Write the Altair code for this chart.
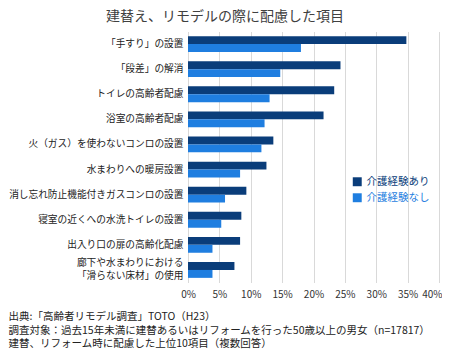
import altair as alt
import pandas as pd

categories = [
    "「手すり」の設置",
    "「段差」の解消",
    "トイレの高齢者配慮",
    "浴室の高齢者配慮",
    "火（ガス）を使わないコンロの設置",
    "水まわりへの暖房設置",
    "消し忘れ防止機能付きガスコンロの設置",
    "寝室の近くへの水洗トイレの設置",
    "出入り口の扉の高齢化配慮",
    "廊下や水まわりにおける\n「滑らない床材」の使用",
]
series = ["介護経験あり", "介護経験なし"]
with_care = [34.8, 24.3, 23.3, 21.6, 13.6, 12.5, 9.3, 8.5, 8.3, 7.4]
without_care = [18.0, 14.7, 13.0, 12.2, 11.7, 8.3, 5.9, 5.3, 3.9, 3.9]
colors = ["#0a3d7a", "#1f7ee0"]
x_ticks = [0, 5, 10, 15, 20, 25, 30, 35, 40]
footnote = [
    "出典:「高齢者リモデル調査」TOTO（H23）",
    "調査対象：過去15年未満に建替あるいはリフォームを行った50歳以上の男女（n=17817）",
    "建替、リフォーム時に配慮した上位10項目（複数回答）",
]
title_text = "建替え、リモデルの際に配慮した項目"

rows = []
for c, a, b in zip(categories, with_care, without_care):
    rows.append({"item": c, "series": series[0], "value": a})
    rows.append({"item": c, "series": series[1], "value": b})
df = pd.DataFrame(rows)

FONT = "Noto Sans CJK JP"

chart = alt.Chart(df).mark_bar().encode(
    x=alt.X(
        "value:Q",
        scale=alt.Scale(domain=[0, 40], nice=False),
        axis=alt.Axis(
            values=x_ticks,
            labelExpr="datum.value + '%'",
            labelOverlap=False,
            labelFlush=False,
            labelAlign={"expr": "datum.value == 40 ? 'right' : 'center'"},
            labelOffset={"expr": "datum.value == 40 ? 3 : 0"},
            grid=True,
            gridColor="#d9d9d9",
            domain=False,
            ticks=False,
            labelPadding=7,
            labelFontSize=10,
            labelColor="#333333",
            labelFont=FONT,
            title=footnote,
            titleAnchor="start",
            titleAlign="left",
            titleBaseline="top",
            titleX=-180,
            titleY=29,
            titleFontSize=10.5,
            titleFontWeight="normal",
            titleColor="#222222",
            titleFont=FONT,
            titleLineHeight=13.5,
        ),
    ),
    y=alt.Y(
        "item:N",
        sort=categories,
        scale=alt.Scale(paddingInner=0.37, paddingOuter=0.185),
        axis=alt.Axis(
            title=None,
            labelExpr="split(datum.label, '\\n')",
            labelOffset={"expr": "indexof(datum.value, '\\n') >= 0 ? -7 : 0"},
            labelFontSize=9.7,
            labelColor="#222222",
            labelFont=FONT,
            labelPadding=5,
            labelLineHeight=13,
            ticks=False,
            domainColor="#d9d9d9",
            labelLimit=200,
        ),
    ),
    yOffset=alt.YOffset("series:N", sort=series, scale=alt.Scale(paddingInner=0, paddingOuter=0)),
    color=alt.Color(
        "series:N",
        sort=series,
        scale=alt.Scale(domain=series, range=colors),
        legend=alt.Legend(
            title=None,
            orient="none",
            legendX=164,
            legendY=145,
            symbolType="square",
            symbolSize=80,
            symbolStrokeWidth=0,
            labelFontSize=10.5,
            labelFont=FONT,
            labelColor={"expr": "datum.value == '介護経験あり' ? '#0a3d7a' : '#1f7ee0'"},
            rowPadding=5,
        ),
    ),
).properties(
    width=251,
    height=251,
    title=alt.TitleParams(
        text=title_text,
        anchor="start",
        frame="group",
        dx=-82,
        fontSize=14,
        fontWeight="normal",
        color="#404040",
        font=FONT,
        offset=7.5,
    ),
    padding={"left": 180, "top": 23.5, "right": 3, "bottom": 69},
    autosize=alt.AutoSizeParams(type="none"),
    background="white",
).configure_view(stroke=None)

chart.save("out.html", embed_options={"renderer": "svg", "actions": False})
